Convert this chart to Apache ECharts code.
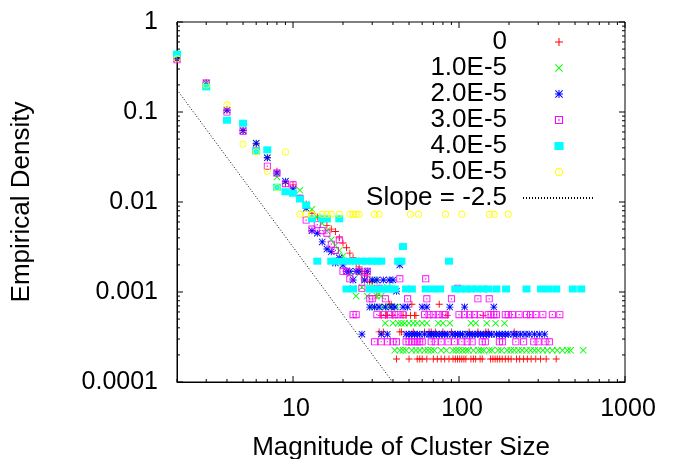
<!DOCTYPE html>
<html><head><meta charset="utf-8">
<script src="https://cdn.jsdelivr.net/npm/echarts@6/dist/echarts.min.js"></script>
<style>html,body{margin:0;padding:0;background:#fff}#c{width:673px;height:459px}</style>
</head><body><div id="c"></div>
<script>
// ---- names ----
const seriesNames = ['0', '1.0E-5', '2.0E-5', '3.0E-5', '4.0E-5', '5.0E-5'];
const slopeName = 'Slope = -2.5';
const xTitle = 'Magnitude of Cluster Size';
const yTitle = 'Empirical Density';

// ---- data: [cluster size, empirical density] ----
const pts0 = [[2,0.39],[3,0.21],[4,0.105],[5,0.062],[6,0.044],[7,0.031],[8,0.022],[9,0.016],[10,0.0155],[11,0.011],[12,0.0095],[13,0.0075],[14,0.0068],[15,0.0062],[16,0.0055],[17,0.0050],[18,0.0047],[19,0.0040],[20,0.0035],[21,0.0031],[22,0.0027],[23,0.0024],[24,0.0021],[25,0.0019],[26,0.0017],[27,0.0016],[28,0.0015],[29,0.0013],[30,0.0013],[31,0.0011],[32,0.00091],[33,0.00036],[34,0.00055],[35,0.00036],[36,0.00055],[37,0.00055],[38,0.00073],[39,0.00073],[40,0.00055],[42,0.00018],[44,0.00036],[45,0.00036],[46,0.00055],[48,0.00055],[50,0.00018],[51,0.00055],[52,0.00073],[53,0.00036],[54,0.00055],[55,0.00055],[56,0.00018],[58,0.00018],[60,0.00018],[62,0.00036],[64,0.00018],[66,0.00036],[68,0.00036],[70,0.00018],[72,0.00036],[74,0.00018],[76,0.00073],[78,0.00018],[80,0.00036],[82,0.00018],[85,0.00055],[87,0.00018],[90,0.00036],[92,0.00018],[95,0.00018],[98,0.00018],[101,0.00018],[104,0.00018],[107,0.00018],[110,0.00018],[115,0.00036],[118,0.00018],[122,0.00018],[126,0.00018],[130,0.00036],[134,0.00018],[138,0.00018],[140,0.00055],[145,0.00036],[150,0.00036],[155,0.00018],[160,0.00018],[165,0.00018],[170,0.00018],[176,0.00018],[182,0.00018],[190,0.00018],[198,0.00018],[206,0.00018],[215,0.00036],[222,0.00018],[232,0.00018],[245,0.00018],[258,0.00018],[272,0.00018],[290,0.00018],[310,0.00018],[335,0.00018],[385,0.00018]];

const pts1 = [[2,0.39],[3,0.2],[4,0.105],[5,0.062],[6,0.045],[7,0.031],[8,0.019],[9,0.017],[10,0.0135],[11,0.0135],[12,0.0095],[13,0.0083],[14,0.0068],[15,0.0058],[16,0.0048],[17,0.0038],[18,0.0033],[19,0.0029],[20,0.0025],[21,0.0022],[22,0.0016],[23,0.0011],[24,0.0009],[25,0.0016],[26,0.00113],[27,0.00135],[28,0.0009],[29,0.00113],[30,0.00068],[31,0.00135],[32,0.0009],[33,0.00068],[34,0.0009],[35,0.00068],[36,0.00045],[37,0.00113],[38,0.00068],[40,0.00045],[41,0.000225],[42,0.00068],[43,0.00045],[44,0.000225],[45,0.00045],[46,0.000225],[47,0.00045],[48,0.000225],[50,0.00045],[52,0.000225],[53,0.00045],[55,0.000225],[56,0.00045],[58,0.000225],[60,0.00045],[62,0.000225],[64,0.00045],[65,0.000225],[68,0.000225],[71,0.000225],[75,0.00045],[78,0.000225],[80,0.00045],[84,0.000225],[88,0.00045],[92,0.000225],[96,0.000225],[100,0.000225],[105,0.000225],[110,0.000225],[114,0.000225],[118,0.00045],[122,0.000225],[126,0.00045],[131,0.000225],[136,0.000225],[141,0.000225],[147,0.00045],[152,0.000225],[158,0.000225],[166,0.00045],[172,0.000225],[180,0.000225],[188,0.00045],[195,0.000225],[205,0.000225],[215,0.000225],[228,0.000225],[240,0.000225],[255,0.000225],[270,0.000225],[285,0.000225],[300,0.000225],[320,0.000225],[340,0.000225],[365,0.000225],[390,0.000225],[420,0.000225],[450,0.000225],[470,0.000225],[560,0.000225]];

const pts2 = [[2,0.39],[3,0.21],[4,0.105],[5,0.062],[6,0.045],[7,0.031],[8,0.021],[9,0.017],[10,0.014],[11,0.011],[12,0.0085],[13,0.0048],[14,0.0045],[15,0.0036],[16,0.0030],[17,0.0028],[18,0.0021],[19,0.0024],[20,0.0020],[21,0.0017],[22,0.0017],[23,0.00136],[24,0.0017],[25,0.0017],[26,0.00034],[27,0.00136],[28,0.0017],[29,0.00068],[30,0.00136],[31,0.00068],[32,0.00136],[33,0.00068],[34,0.00034],[35,0.00136],[36,0.00068],[37,0.00034],[38,0.00136],[39,0.00068],[40,0.00136],[41,0.00068],[42,0.00102],[44,0.002],[46,0.00068],[48,0.00034],[49,0.00068],[50,0.00034],[52,0.00034],[54,0.00034],[56,0.00034],[58,0.00034],[60,0.00068],[62,0.00034],[64,0.00068],[66,0.00034],[68,0.00034],[70,0.00034],[73,0.00034],[76,0.00034],[79,0.00034],[82,0.00034],[85,0.00034],[88,0.00068],[91,0.00034],[95,0.00034],[98,0.00034],[102,0.00034],[105,0.00034],[108,0.00068],[112,0.00034],[116,0.00034],[120,0.00034],[125,0.00034],[130,0.00034],[135,0.00034],[140,0.00034],[146,0.00034],[152,0.00034],[157,0.00034],[162,0.00068],[168,0.00034],[175,0.00034],[182,0.00034],[190,0.00034],[198,0.00034],[212,0.00034],[222,0.00034],[235,0.00034],[250,0.00034],[265,0.00034],[285,0.00034],[305,0.00034],[328,0.00034]];

const pts3 = [[2,0.38],[3,0.21],[4,0.10],[5,0.061],[6,0.037],[7,0.025],[8,0.021],[9,0.016],[10,0.0155],[11,0.011],[12,0.0063],[13,0.0050],[14,0.0056],[15,0.0048],[16,0.0045],[17,0.0034],[18,0.0029],[19,0.0038],[20,0.0017],[21,0.0017],[22,0.0014],[23,0.00056],[24,0.00056],[25,0.0017],[26,0.0011],[27,0.0014],[28,0.0017],[29,0.00084],[30,0.00084],[31,0.00028],[32,0.00056],[33,0.0011],[34,0.00028],[35,0.00056],[36,0.00084],[37,0.00028],[38,0.00056],[40,0.00028],[41,0.00056],[42,0.00028],[43,0.00056],[44,0.0014],[46,0.00056],[48,0.00028],[49,0.00084],[50,0.00028],[52,0.00028],[54,0.00028],[56,0.00028],[58,0.00028],[60,0.00028],[62,0.00056],[63,0.0014],[64,0.00084],[66,0.00056],[68,0.00028],[70,0.00056],[72,0.00028],[75,0.00056],[78,0.00028],[80,0.00056],[83,0.00056],[86,0.00028],[90,0.00084],[94,0.00028],[98,0.0011],[100,0.00056],[104,0.00028],[108,0.00056],[112,0.00028],[116,0.00056],[120,0.00028],[124,0.00056],[130,0.00084],[134,0.00056],[138,0.00028],[144,0.00028],[150,0.00056],[152,0.00084],[156,0.00056],[162,0.00056],[168,0.00056],[175,0.00028],[183,0.00028],[190,0.00056],[198,0.00056],[210,0.00056],[220,0.00028],[230,0.00056],[245,0.00028],[255,0.00056],[270,0.00056],[282,0.00028],[290,0.00056],[300,0.00028],[320,0.00056],[330,0.00028],[350,0.00028],[365,0.00056],[405,0.00056]];

const pts4 = [[2,0.44],[3,0.19],[4,0.081],[5,0.075],[6,0.037],[7,0.038],[8,0.0146],[9,0.013],[10,0.0125],[11,0.0108],[12,0.0092],[13,0.0065],[14,0.0022],[15,0.0065],[16,0.0065],[17,0.0022],[18,0.0022],[19,0.0065],[20,0.0022],[21,0.00108],[22,0.0022],[23,0.00108],[24,0.0022],[26,0.0022],[28,0.0022],[29,0.00108],[30,0.0022],[31,0.00108],[32,0.0022],[33,0.00108],[34,0.0022],[35,0.00108],[37,0.00108],[39,0.00108],[41,0.00108],[43,0.0022],[45,0.0022],[46,0.0032],[48,0.00108],[52,0.00108],[63,0.00108],[70,0.00108],[77,0.00108],[87,0.0022],[95,0.00108],[102,0.00108],[110,0.00108],[118,0.00108],[128,0.00108],[140,0.00108],[150,0.00108],[168,0.00108],[192,0.00108],[255,0.00108],[312,0.00108],[345,0.00108],[385,0.00108],[485,0.00108],[545,0.00108]];

const pts5 = [[2,0.39],[3,0.2],[4,0.12],[5,0.044],[6,0.036],[7,0.022],[8,0.0145],[9,0.036],[11,0.0073],[12,0.0073],[13,0.0073],[15,0.0073],[16,0.0073],[17,0.0073],[19,0.0073],[22,0.0073],[23,0.0073],[24,0.0073],[25,0.0073],[31,0.0073],[33,0.0073],[51,0.0073],[57,0.0073],[83,0.0073],[104,0.0073],[152,0.0073],[163,0.0073],[198,0.0073]];

const slopePts = [[2,0.177],[39.8,0.0001]];

// ---- axes ----
const xRange = [2, 1000];
const yRange = [0.0001, 1];
const xMajor = [10, 100, 1000];
const xMinor = [2,3,4,5,6,7,8,9,20,30,40,50,60,70,80,90,200,300,400,500,600,700,800,900];
const yMajor = [0.0001, 0.001, 0.01, 0.1, 1];
const yMinor = [0.0002,0.0003,0.0004,0.0005,0.0006,0.0007,0.0008,0.0009,0.002,0.003,0.004,0.005,0.006,0.007,0.008,0.009,0.02,0.03,0.04,0.05,0.06,0.07,0.08,0.09,0.2,0.3,0.4,0.5,0.6,0.7,0.8,0.9];
const xTickLabels = ['10', '100', '1000'];
const yTickLabels = ['0.0001', '0.001', '0.01', '0.1', '1'];

const colors = ['#ff0000', '#00ff00', '#0000ff', '#ff00ff', '#00ffff', '#ffff00'];
const symbols = [
  'path://M0,3.5H8V4.5H0Z M3.5,0H4.5V8H3.5Z',
  'path://M0,0.7L0.7,0L8,7.3L7.3,8Z M7.3,0L8,0.7L0.7,8L0,7.3Z',
  'path://M0,3.5H8V4.5H0Z M3.5,0H4.5V8H3.5Z M0,0.7L0.7,0L8,7.3L7.3,8Z M7.3,0L8,0.7L0.7,8L0,7.3Z',
  'path://M0,0H8V8H0Z M1,1V7H7V1Z M3.3,3.3H4.7V4.7H3.3Z',
  'path://M0,0H8V7H0Z',
  'path://M0,4A4,4 0 1 1 8,4A4,4 0 1 1 0,4Z M1,4A3,3 0 1 0 7,4A3,3 0 1 0 1,4Z M3.4,3.4H4.6V4.6H3.4Z'
];
const sizes = [7, 7, 7, 7, [8, 7], 7];
const allPts = [pts0, pts1, pts2, pts3, pts4, pts5];

const FONT = 'Liberation Sans, Arial, Helvetica, sans-serif';
const chart = echarts.init(document.getElementById('c'), null, {renderer: 'canvas'});

function tickSeries(vals, isX, len) {
  return {
    type: 'custom', silent: true, z: 5, clip: false,
    data: vals.map(v => isX ? [v, yRange[0]] : [xRange[0], v]),
    encode: {x: 0, y: 1},
    renderItem: function (params, api) {
      const v = api.value(isX ? 0 : 1);
      let a, b;
      if (isX) { a = api.coord([v, yRange[0]]); b = api.coord([v, yRange[1]]); }
      else { a = api.coord([xRange[0], v]); b = api.coord([xRange[1], v]); }
      const st = {stroke: '#000', lineWidth: 1};
      if (isX) {
        return {type: 'group', children: [
          {type: 'line', shape: {x1: a[0], y1: a[1], x2: a[0], y2: a[1] - len}, style: st},
          {type: 'line', shape: {x1: b[0], y1: b[1], x2: b[0], y2: b[1] + len}, style: st}
        ]};
      }
      return {type: 'group', children: [
        {type: 'line', shape: {x1: a[0], y1: a[1], x2: a[0] + len, y2: a[1]}, style: st},
        {type: 'line', shape: {x1: b[0], y1: b[1], x2: b[0] - len, y2: b[1]}, style: st}
      ]};
    }
  };
}

const series = seriesNames.map((name, i) => ({
  name: name, type: 'scatter', data: allPts[i], symbol: symbols[i], symbolSize: sizes[i],
  itemStyle: {color: colors[i], opacity: 1}, clip: false, z: 2
}));
series.push({
  name: slopeName, type: 'line', data: slopePts, symbol: 'none', clip: true, z: 3,
  lineStyle: {color: '#000', width: 1, type: [1, 2]}, itemStyle: {color: 'rgba(0,0,0,0)'}
});
series.push(tickSeries(xMajor, true, 6));
series.push(tickSeries(xMinor, true, 3));
series.push(tickSeries(yMajor, false, 6));
series.push(tickSeries(yMinor, false, 3));

const option = {
  animation: false,
  backgroundColor: '#fff',
  textStyle: {fontFamily: FONT},
  grid: {left: 177, right: 48, top: 22, bottom: 77, show: true, borderColor: '#000', borderWidth: 1,
         containLabel: false, outerBoundsMode: 'none'},
  legend: {
    data: seriesNames.concat([slopeName]),
    orient: 'vertical', right: 72, top: 24, align: 'right',
    itemWidth: 72, itemHeight: 8, itemGap: 0, symbolKeepAspect: true,
    textStyle: {fontSize: 26, color: '#000', fontFamily: FONT, lineHeight: 26, padding: [0, 11, 0, 0]},
    selectedMode: false
  },
  xAxis: {
    type: 'log', logBase: 10, min: xRange[0], max: xRange[1],
    name: xTitle, nameLocation: 'middle', nameGap: 53,
    nameTextStyle: {fontSize: 26, color: '#000', fontFamily: FONT},
    axisLine: {show: true, lineStyle: {color: '#000', width: 1}},
    axisTick: {show: false}, splitLine: {show: false}, minorTick: {show: false},
    axisLabel: {
      fontSize: 25, color: '#000', margin: 15, padding: [0, 0, 0, 6], fontFamily: FONT,
      showMinLabel: false,
      formatter: function (v) {
        const e = Math.log10(v), r = Math.round(e);
        if (Math.abs(e - r) > 1e-6 || r < 1) return '';
        return xTickLabels[r - 1] || '';
      }
    }
  },
  yAxis: {
    type: 'log', logBase: 10, min: yRange[0], max: yRange[1],
    name: yTitle, nameLocation: 'middle', nameGap: 142, nameRotate: 90,
    nameTextStyle: {fontSize: 26, color: '#000', fontFamily: FONT},
    axisLine: {show: true, lineStyle: {color: '#000', width: 1}},
    axisTick: {show: false}, splitLine: {show: false}, minorTick: {show: false},
    axisLabel: {
      fontSize: 25, color: '#000', margin: 19, fontFamily: FONT,
      formatter: function (v) {
        const e = Math.log10(v), r = Math.round(e);
        if (Math.abs(e - r) > 1e-6) return '';
        return yTickLabels[r + 4] || '';
      }
    }
  },
  series: series
};
chart.setOption(option);
</script></body></html>
